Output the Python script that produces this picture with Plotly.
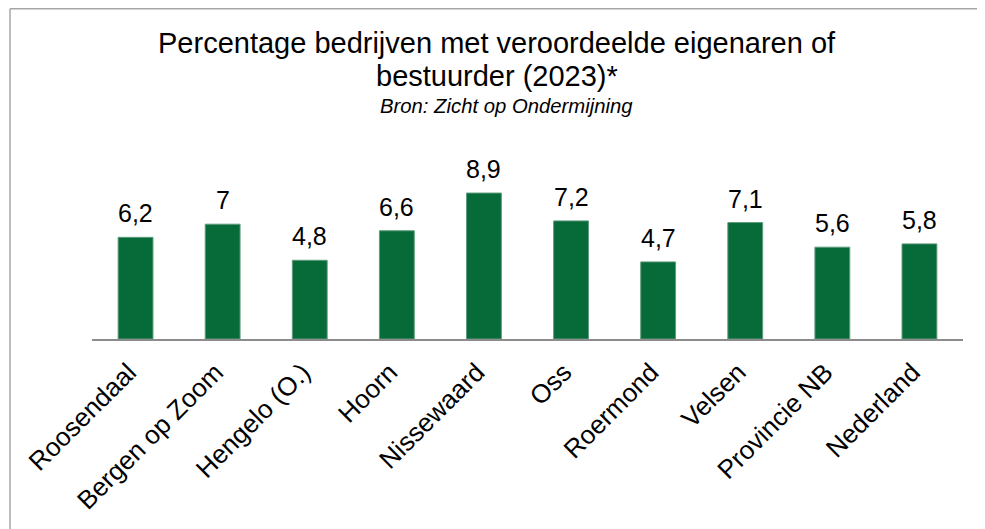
import plotly.graph_objects as go

categories = ["Roosendaal", "Bergen op Zoom", "Hengelo (O.)", "Hoorn", "Nissewaard",
              "Oss", "Roermond", "Velsen", "Provincie NB", "Nederland"]
values = [6.2, 7.0, 4.8, 6.6, 8.9, 7.2, 4.7, 7.1, 5.6, 5.8]
labels = [("%g" % v).replace(".", ",") for v in values]

title_line1 = "Percentage bedrijven met veroordeelde eigenaren of"
title_line2 = "bestuurder (2023)*"
subtitle = "Bron: Zicht op Ondermijning"

# the page body adds an 8px offset; work in screen pixels and subtract it
OFF = 8
W, H = 985 - OFF, 529 - OFF
ML, MR, MT, MB = 92 - OFF, 22, 175 - OFF, 190
FONT = "Arial, 'Liberation Sans', sans-serif"

fig = go.Figure(go.Bar(
    x=categories, y=values,
    marker=dict(color="#076a39", line=dict(color="#5e9c7b", width=1)),
    width=0.4,
    hoverinfo="skip",
))

for c, v, t in zip(categories, values, labels):
    fig.add_annotation(x=c, y=v, text=t, showarrow=False, yanchor="bottom",
                       yshift=8, font=dict(family=FONT, size=25, color="#000000"))

pw = W - ML - MR
ph = H - MT - MB
def px_x(x):
    return (x - OFF - ML) / pw
def px_y(y):
    return (H - MB - (y - OFF)) / ph

cx = px_x(497)
fig.add_annotation(xref="paper", yref="paper", x=cx, y=px_y(43), text=title_line1,
                   showarrow=False, yanchor="middle", xanchor="center",
                   font=dict(family=FONT, size=29, color="#000000"))
fig.add_annotation(xref="paper", yref="paper", x=cx, y=px_y(76), text=title_line2,
                   showarrow=False, yanchor="middle", xanchor="center",
                   font=dict(family=FONT, size=29, color="#000000"))
fig.add_annotation(xref="paper", yref="paper", x=px_x(506), y=px_y(106),
                   text="<i>" + subtitle + "</i>",
                   showarrow=False, yanchor="middle", xanchor="center",
                   font=dict(family=FONT, size=20.3, color="#000000"))

# outer frame (top and left edges)
frame_col = "#a6a6a6"
fig.add_shape(type="line", xref="paper", yref="paper",
              x0=px_x(10), x1=px_x(990), y0=px_y(8.8), y1=px_y(8.8),
              line=dict(color=frame_col, width=1.5))
fig.add_shape(type="line", xref="paper", yref="paper",
              x0=px_x(10), x1=px_x(10), y0=px_y(8.8), y1=px_y(535),
              line=dict(color=frame_col, width=1.5))

fig.update_layout(
    width=W, height=H,
    margin=dict(l=ML, r=MR, t=MT, b=MB, autoexpand=False),
    paper_bgcolor="white", plot_bgcolor="white",
    showlegend=False,
    font=dict(family=FONT, color="#000000"),
)
fig.update_xaxes(
    type="category", showline=True, linecolor="#8c8c8c", linewidth=1.5,
    tickangle=-45, tickfont=dict(family=FONT, size=26, color="#000000"),
    ticks="", showgrid=False, ticklabelstandoff=6, ticklabelshift=-7,
    automargin=False,
)
fig.update_yaxes(range=[0, 10], visible=False, showgrid=False, automargin=False)

fig.write_html("out.html")
